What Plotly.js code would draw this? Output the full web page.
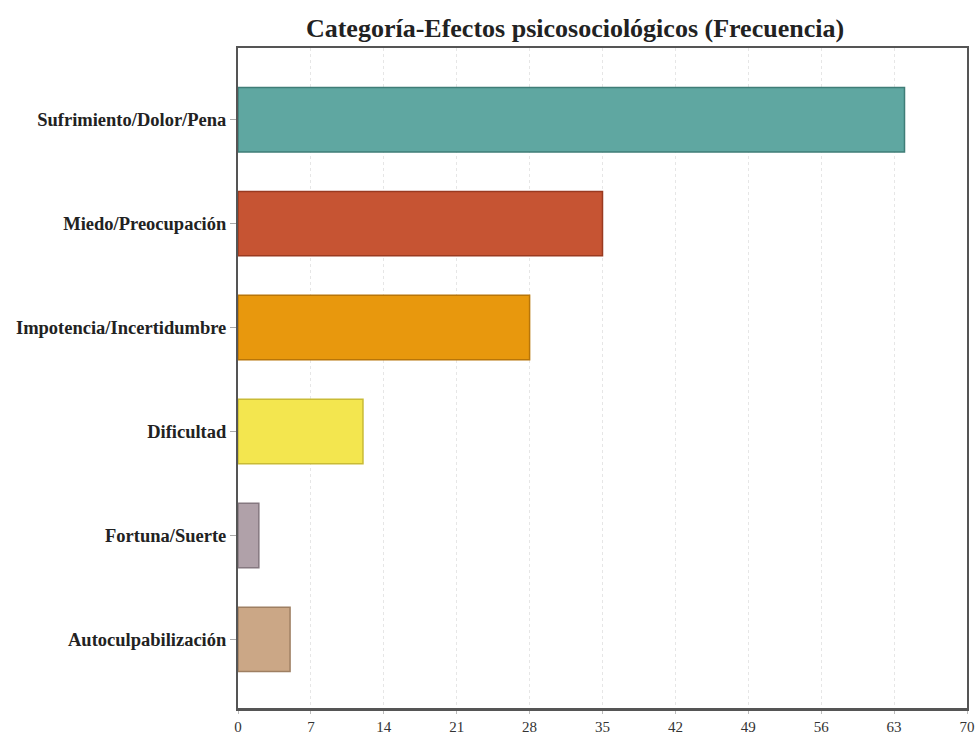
<!DOCTYPE html>
<html>
<head>
<meta charset="utf-8">
<script src="https://cdn.plot.ly/plotly-3.0.1.min.js"></script>
<style>html,body{margin:0;padding:0;background:#fff;}</style>
</head>
<body>
<div id="chart" style="width:979px;height:738px;"></div>
<script>
const categories = ["Sufrimiento/Dolor/Pena","Miedo/Preocupación","Impotencia/Incertidumbre","Dificultad","Fortuna/Suerte","Autoculpabilización"];
const values = [64, 35, 28, 12, 2, 5];
const colors = ["#5fa7a1","#c65433","#e8980d","#f3e64f","#b0a1a9","#cba786"];
const edgeColors = ["#3f7d77","#9a3a20","#b87508","#c9bb35","#857880","#9e7f62"];
const xTicks = [0,7,14,21,28,35,42,49,56,63,70];

const trace = {
  type: "bar",
  orientation: "h",
  x: values,
  y: categories,
  width: 0.62,
  marker: {color: colors, line: {color: edgeColors, width: 1.5}},
  hoverinfo: "x+y"
};

const layout = {
  width: 979, height: 738,
  margin: {l: 238, r: 12, t: 48, b: 30},
  paper_bgcolor: "#fff", plot_bgcolor: "#fff",
  showlegend: false,
  title: {
    text: "<b>Categoría-Efectos psicosociológicos (Frecuencia)</b>",
    font: {family: "Liberation Serif, serif", size: 26, color: "#222"},
    x: 575/979, xref: "container", xanchor: "center",
    y: 1 - 28/738, yref: "container", yanchor: "middle"
  },
  xaxis: {
    range: [0, 70], tickvals: xTicks, ticktext: xTicks.map(String),
    showgrid: true, gridcolor: "#e6e6e6", griddash: "dot", gridwidth: 1,
    zeroline: false,
    showline: true, linecolor: "#555", linewidth: 2.5, mirror: true,
    ticks: "outside", ticklen: 3, tickcolor: "#bbb",
    tickfont: {family: "Liberation Serif, serif", size: 15, color: "#333"}
  },
  yaxis: {
    type: "category",
    categoryorder: "array", categoryarray: categories,
    range: [5.66, -0.69],
    showgrid: false, zeroline: false,
    showline: true, linecolor: "#555", linewidth: 2, mirror: true,
    ticks: "outside", ticklen: 6, tickcolor: "#aaa",
    tickfont: {family: "Liberation Serif, serif", size: 18.5, color: "#222", weight: "bold"}
  }
};

Plotly.newPlot("chart", [trace], layout, {displayModeBar: false, staticPlot: true});
</script>
</body>
</html>
